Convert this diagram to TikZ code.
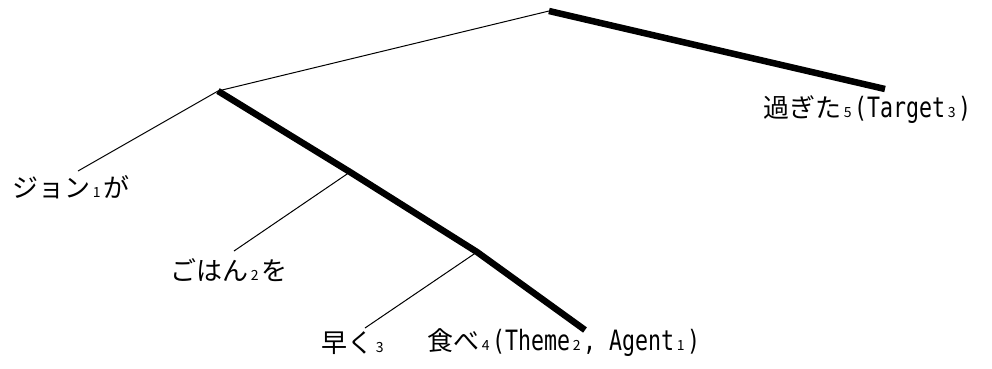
\documentclass[tikz,border=0pt]{standalone}
\usepackage{graphicx}
\usepackage{fontspec}
\setmainfont{Noto Sans CJK JP}
\setmonofont{DejaVu Sans Mono}
\newcommand\subd[1]{\makebox[13pt][c]{\fontsize{14}{14}\selectfont #1}}
\newcommand\lat[1]{\scalebox{0.771}[1]{\fontsize{28}{28}\ttfamily #1}}
\begin{document}
\begin{tikzpicture}[x=1pt,y=-1pt,
  thin line/.style={line width=1pt},
  thick line/.style={line width=6.5pt},
  lab/.style={anchor=west,inner sep=0pt,font=\fontsize{26}{26}\selectfont}]
\useasboundingbox (0,0) rectangle (992,368);
\coordinate (root) at (549,11);
\coordinate (n1) at (218,91);
\coordinate (n2) at (350,172);
\coordinate (n3) at (477,252);
\coordinate (vend) at (585,330);
\coordinate (tend) at (885,89);
\coordinate (e1) at (78,171);
\coordinate (e2) at (234,251);
\coordinate (e3) at (365,328);
\node[lab] (t5) at (763,110) {過ぎた\subd{5}\lat{(Target}\subd{3}\lat{)}};
\node[lab] (t1) at (12,187) {ジョン\subd{1}が};
\node[lab] (t2) at (170,270) {ごはん\subd{2}を};
\node[lab] (t3) at (321,343) {早く\subd{3}};
\node[lab] (t4) at (427,343) {食べ\subd{4}\lat{(Theme}\subd{2}\lat{,~Agent}\subd{1}\lat{)}};
\draw[thin line] (root) -- (n1);
\draw[thick line] (root) -- (tend);
\draw[thin line] (n1) -- (e1);
\draw[thick line,line join=round] (n1) -- (n2) -- (n3) -- (vend);
\draw[thin line] (n2) -- (e2);
\draw[thin line] (n3) -- (e3);
\end{tikzpicture}
\end{document}
